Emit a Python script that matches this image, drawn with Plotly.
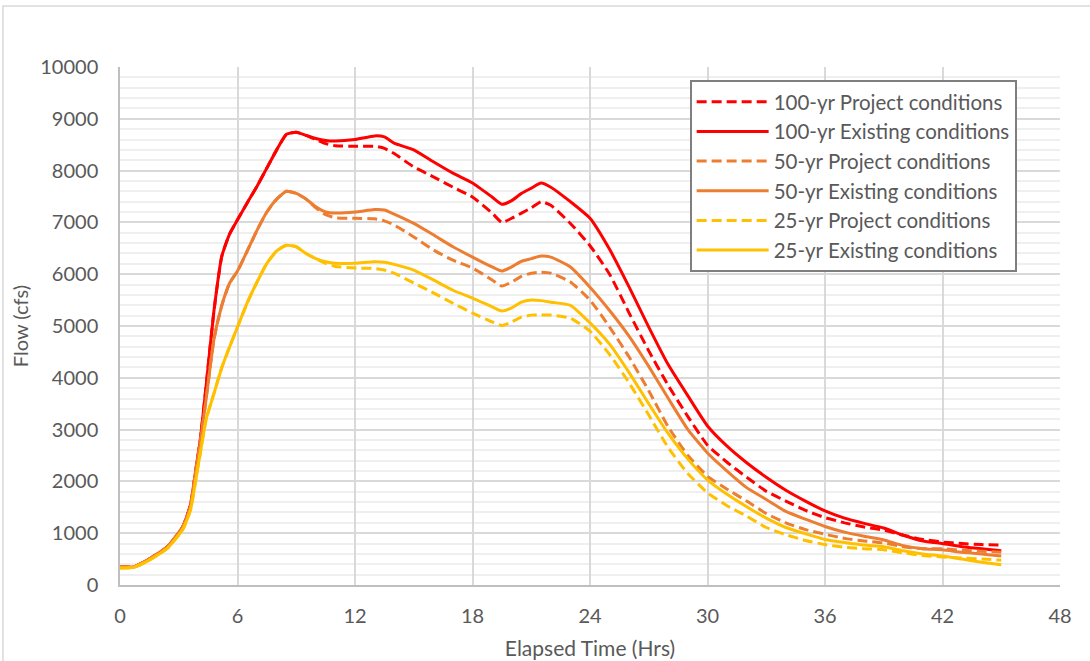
import plotly.graph_objects as go

# Elapsed time (hrs)
T = [0, 0.7, 1.4, 2.4, 3.2, 3.6, 3.9, 4.1, 4.4, 4.8, 5.2, 5.6, 6, 6.5, 7, 7.5, 8, 8.5, 9, 9.5,
     10, 10.5, 11, 12, 13, 13.5, 14, 15, 16, 17, 18, 19, 19.5, 20, 20.5, 21, 21.5, 22, 23, 24,
     25, 26, 27, 28, 29, 30, 31, 32, 33, 34, 35, 36, 37, 38, 39, 40, 41, 42, 43, 44, 45]

r100_exist = [350, 350, 480, 730, 1120, 1550, 2300, 2800, 3850, 5300, 6350, 6780, 7050, 7380, 7700, 8050, 8400, 8700, 8740, 8680,
              8620, 8580, 8570, 8600, 8670, 8650, 8530, 8400, 8170, 7950, 7760, 7490, 7350, 7420, 7560, 7660, 7760, 7680, 7400, 7080,
              6480, 5750, 4980, 4250, 3650, 3070, 2680, 2360, 2080, 1830, 1620, 1430, 1290, 1190, 1100, 960, 850, 800, 740, 700, 660]
r100_proj = [350, 350, 480, 730, 1120, 1550, 2300, 2800, 3850, 5300, 6350, 6780, 7050, 7380, 7700, 8050, 8400, 8700, 8740, 8680,
             8600, 8520, 8480, 8470, 8470, 8430, 8330, 8070, 7880, 7680, 7490, 7180, 7000, 7080, 7180, 7280, 7400, 7330, 6980, 6550,
             6000, 5250, 4520, 3850, 3250, 2700, 2370, 2080, 1810, 1620, 1440, 1300, 1200, 1120, 1060, 960, 880, 830, 800, 780, 770]
r50_exist = [350, 350, 480, 730, 1120, 1520, 2280, 2750, 3600, 4750, 5400, 5830, 6060, 6450, 6850, 7200, 7450, 7600, 7560, 7450,
             7300, 7200, 7180, 7200, 7250, 7240, 7160, 6980, 6760, 6530, 6330, 6140, 6060, 6140, 6250, 6300, 6350, 6330, 6140, 5750,
             5300, 4800, 4220, 3600, 3000, 2550, 2200, 1880, 1650, 1420, 1270, 1130, 1020, 940, 870, 760, 700, 680, 630, 600, 560]
r50_proj = [350, 350, 480, 730, 1120, 1520, 2280, 2750, 3600, 4750, 5400, 5830, 6060, 6450, 6850, 7200, 7450, 7600, 7560, 7450,
            7280, 7150, 7090, 7080, 7070, 7030, 6950, 6720, 6470, 6270, 6120, 5890, 5770, 5850, 5960, 6020, 6040, 6020, 5850, 5500,
            4980, 4400, 3750, 3050, 2500, 2100, 1850, 1620, 1380, 1200, 1070, 980, 900, 850, 810, 740, 700, 700, 670, 650, 630]
r25_exist = [330, 340, 460, 700, 1070, 1450, 2100, 2550, 3200, 3700, 4200, 4600, 4980, 5450, 5850, 6210, 6450, 6560, 6530, 6400,
             6300, 6240, 6210, 6210, 6240, 6230, 6190, 6080, 5890, 5690, 5540, 5370, 5290, 5350, 5460, 5500, 5490, 5460, 5400, 5060,
             4650, 4100, 3500, 2920, 2430, 2030, 1750, 1510, 1290, 1110, 990, 880, 820, 770, 740, 660, 600, 560, 500, 440, 390]
r25_proj = [330, 340, 460, 700, 1070, 1450, 2100, 2550, 3200, 3700, 4200, 4600, 4980, 5450, 5850, 6210, 6450, 6560, 6530, 6400,
            6300, 6210, 6150, 6120, 6110, 6080, 6020, 5830, 5640, 5440, 5250, 5080, 5010, 5080, 5170, 5210, 5210, 5210, 5150, 4900,
            4450, 3900, 3280, 2650, 2150, 1780, 1530, 1330, 1110, 970, 860, 780, 730, 700, 680, 620, 570, 540, 520, 500, 480]

series = [
    ("100-yr Project conditions", r100_proj, "#FF0000", "10px,5px"),
    ("100-yr Existing conditions", r100_exist, "#FF0000", "solid"),
    ("50-yr Project conditions", r50_proj, "#ED7D31", "10px,5px"),
    ("50-yr Existing conditions", r50_exist, "#ED7D31", "solid"),
    ("25-yr Project conditions", r25_proj, "#FFC000", "10px,5px"),
    ("25-yr Existing conditions", r25_exist, "#FFC000", "solid"),
]

x_ticks = [0, 6, 12, 18, 24, 30, 36, 42, 48]
y_ticks = list(range(0, 10001, 1000))

FONT = "Lato, 'Open Sans', sans-serif"
GREY = "#595959"

fig = go.Figure()
for i, (name, vals, color, dash) in enumerate(series):
    fig.add_trace(go.Scatter(x=T, y=vals, mode="lines", name=name, legendgroup=f"g{i}",
                             line=dict(color=color, width=3, dash=dash, shape="spline", smoothing=0.5)))

fig.update_layout(
    width=1090, height=661,
    margin=dict(l=120, r=30, t=67, b=76, autoexpand=False),
    paper_bgcolor="white", plot_bgcolor="white",
    font=dict(family=FONT, size=20, color=GREY),
    showlegend=True,
    legend=dict(x=0.606, y=0.975, xanchor="left", yanchor="top",
                bgcolor="white", bordercolor="#7f7f7f", borderwidth=2,
                font=dict(family=FONT, size=20.5, color=GREY),
                tracegroupgap=0, itemwidth=72),
    xaxis=dict(range=[0, 48], tickvals=x_ticks, ticktext=[str(v) for v in x_ticks],
               showgrid=True, gridcolor="#d9d9d9", gridwidth=1.5,
               showline=True, linecolor="#bfbfbf", linewidth=1.5, automargin=False,
               zeroline=False, ticks="", ticklabelstandoff=12,
               title=dict(text="Elapsed Time (Hrs)", font=dict(size=21, color=GREY), standoff=16)),
    yaxis=dict(range=[0, 10000], tickvals=y_ticks, ticktext=[str(v) for v in y_ticks],
               showgrid=True, gridcolor="#d9d9d9", gridwidth=1.5, automargin=False,
               minor=dict(dtick=200, showgrid=True, gridcolor="#efefef", gridwidth=1.5),
               showline=True, linecolor="#bfbfbf", linewidth=1.5,
               zeroline=False, ticks="", ticklabelstandoff=16,
               title=dict(text="Flow (cfs)", font=dict(size=20, color=GREY), standoff=6)),
    shapes=[dict(type="rect", xref="paper", yref="paper",
                 x0=-0.1245, x1=1.2, y0=-0.3, y1=1.118,
                 line=dict(color="#d9d9d9", width=1.5), fillcolor="rgba(0,0,0,0)", layer="below")],
)

fig.write_html("out.html", post_script="document.body.style.margin='0';",
               config={"displayModeBar": False})
